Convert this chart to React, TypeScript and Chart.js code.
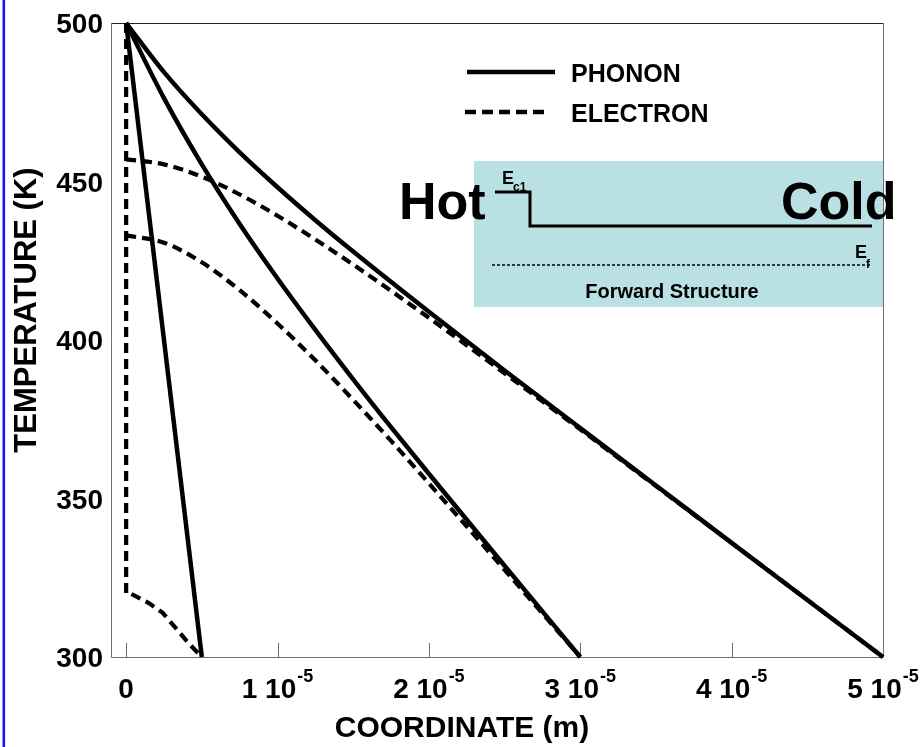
import { useEffect, useRef } from "react";
import { Chart, registerables } from "chart.js";

Chart.register(...registerables);

// Coordinates in metres, temperatures in kelvin.
// Thinnest structure (0.5 µm-scale): phonon and electron temperatures
const phononX1 = [0, 0.5e-5];
const phononT1 = [500, 300];
const electronX1 = [0, 0, 0.03e-5, 0.15e-5, 0.24e-5, 0.33e-5, 0.41e-5, 0.5e-5];
const electronT1 = [500, 320, 320, 317, 314, 309, 304.5, 300];

// Medium structure
const phononX2 = [0, 0.25e-5, 0.5e-5, 0.75e-5, 1e-5, 1.25e-5, 1.5e-5, 1.75e-5, 2e-5, 2.5e-5, 3e-5];
const phononT2 = [500, 476.3, 455.4, 436.6, 419.4, 403.2, 387.6, 372.5, 357.8, 328.8, 300];
const electronX2 = [0, 0.25e-5, 0.5e-5, 0.75e-5, 1e-5, 1.25e-5, 1.5e-5, 1.75e-5, 2e-5, 2.5e-5, 3e-5];
const electronT2 = [433, 430.7, 424.5, 415.7, 405.2, 393.6, 381.1, 368.2, 354.8, 327.5, 300];

// Longest structure
const phononX3 = [0, 0.25e-5, 0.5e-5, 0.75e-5, 1e-5, 1.25e-5, 1.5e-5, 2e-5, 2.5e-5, 3e-5, 3.5e-5, 4e-5, 4.5e-5, 5e-5];
const phononT3 = [500, 484.5, 471.2, 459.2, 448.2, 437.8, 427.9, 408.9, 390.4, 372.2, 354.1, 336, 318, 300];
const electronX3 = [0, 0.25e-5, 0.5e-5, 0.75e-5, 1e-5, 1.25e-5, 1.5e-5, 2e-5, 2.5e-5, 3e-5, 3.5e-5, 4e-5, 4.5e-5, 5e-5];
const electronT3 = [457, 455.4, 451.5, 445.9, 439.2, 431.7, 423.8, 407, 389.5, 371.8, 353.9, 336, 318, 300];

// Axis ticks
const xTickValues = [0, 1e-5, 2e-5, 3e-5, 4e-5, 5e-5];
const xTickMantissa = ["0", "1 10", "2 10", "3 10", "4 10", "5 10"];
const xTickExponent = ["", "-5", "-5", "-5", "-5", "-5"];
const yTickValues = [300, 350, 400, 450, 500];

const FONT = '"Liberation Sans", Arial, Helvetica, sans-serif';

const toPoints = (xs: number[], ts: number[]) => xs.map((x, i) => ({ x, y: ts[i] }));

const solid = (xs: number[], ts: number[], smooth: boolean) => ({
  data: toPoints(xs, ts),
  borderColor: "#000",
  borderWidth: 4.5,
  pointRadius: 0,
  fill: false,
  clip: false as const,
  cubicInterpolationMode: smooth ? ("monotone" as const) : ("default" as const),
  tension: 0,
});

const dashed = (xs: number[], ts: number[], smooth: boolean) => ({
  ...solid(xs, ts, smooth),
  borderDash: [10, 6],
  borderWidth: 4.2,
});

const decorPlugin = {
  id: "decor",
  beforeDraw(chart: any) {
    const ctx = chart.ctx as CanvasRenderingContext2D;
    ctx.save();
    ctx.fillStyle = "#ffffff";
    ctx.fillRect(0, 0, chart.width, chart.height);
    // blue rule along the left edge
    ctx.fillStyle = "#1414f0";
    ctx.fillRect(2.5, 0, 2.6, chart.height);
    ctx.restore();
  },
  beforeDatasetsDraw(chart: any) {
    const ctx = chart.ctx as CanvasRenderingContext2D;
    const { left, right, top, bottom } = chart.chartArea;
    const xs = chart.scales.x;
    ctx.save();
    ctx.lineWidth = 1;
    // frame
    ctx.strokeStyle = "#222";
    ctx.beginPath();
    ctx.moveTo(left, top + 0.5);
    ctx.lineTo(right, top + 0.5);
    ctx.stroke();
    ctx.strokeStyle = "#6e6e6e";
    ctx.beginPath();
    ctx.moveTo(left + 0.5, top);
    ctx.lineTo(left + 0.5, bottom + 0.5);
    ctx.lineTo(right + 0.5, bottom + 0.5);
    ctx.lineTo(right + 0.5, top);
    ctx.stroke();
    // inward x ticks
    xTickValues.forEach((v) => {
      const px = Math.round(xs.getPixelForValue(v)) + 0.5;
      ctx.beginPath();
      ctx.moveTo(px, bottom);
      ctx.lineTo(px, bottom - 14);
      ctx.stroke();
    });
    ctx.restore();
  },
  afterDraw(chart: any) {
    const ctx = chart.ctx as CanvasRenderingContext2D;
    const xs = chart.scales.x;
    const ys = chart.scales.y;
    ctx.save();
    ctx.fillStyle = "#000";

    // y tick labels
    ctx.font = `bold 28px ${FONT}`;
    ctx.textAlign = "right";
    ctx.textBaseline = "alphabetic";
    yTickValues.forEach((v) => {
      ctx.fillText(String(v), 103, ys.getPixelForValue(v) + 10);
    });

    // x tick labels with superscript exponent
    ctx.textAlign = "left";
    xTickValues.forEach((v, i) => {
      const px = xs.getPixelForValue(v);
      ctx.font = `bold 28px ${FONT}`;
      const wm = ctx.measureText(xTickMantissa[i]).width;
      ctx.font = `bold 18px ${FONT}`;
      const we = xTickExponent[i] ? ctx.measureText(xTickExponent[i]).width + 1 : 0;
      const x0 = px - (wm + we) / 2;
      ctx.font = `bold 28px ${FONT}`;
      ctx.fillText(xTickMantissa[i], x0, 698);
      if (xTickExponent[i]) {
        ctx.font = `bold 18px ${FONT}`;
        ctx.fillText(xTickExponent[i], x0 + wm + 1, 682);
      }
    });

    // axis titles
    ctx.font = `bold 30px ${FONT}`;
    ctx.textAlign = "center";
    ctx.fillText("COORDINATE (m)", 462, 737);
    ctx.save();
    ctx.translate(36, 310);
    ctx.rotate(-Math.PI / 2);
    ctx.font = `bold 31px ${FONT}`;
    ctx.fillText("TEMPERATURE (K)", 0, 0);
    ctx.restore();

    // legend
    ctx.strokeStyle = "#000";
    ctx.lineWidth = 4.5;
    ctx.beginPath();
    ctx.moveTo(467, 72);
    ctx.lineTo(555, 72);
    ctx.stroke();
    ctx.setLineDash([11, 6]);
    ctx.beginPath();
    ctx.moveTo(465, 112);
    ctx.lineTo(545, 112);
    ctx.stroke();
    ctx.setLineDash([]);
    ctx.font = `bold 25px ${FONT}`;
    ctx.textAlign = "left";
    ctx.fillText("PHONON", 571, 82);
    ctx.fillText("ELECTRON", 571, 122);

    // band diagram inset
    ctx.fillStyle = "#b9e0e3";
    ctx.fillRect(474, 161, 409, 146);
    ctx.fillStyle = "#000";
    ctx.font = `bold 52px ${FONT}`;
    ctx.fillText("Hot", 399, 219);
    ctx.fillText("Cold", 781, 219);
    ctx.lineWidth = 3;
    ctx.beginPath();
    ctx.moveTo(495, 192);
    ctx.lineTo(530, 192);
    ctx.lineTo(530, 226);
    ctx.lineTo(872, 226);
    ctx.stroke();
    ctx.font = `bold 18px ${FONT}`;
    ctx.fillText("E", 502, 184);
    ctx.fillText("E", 855, 258);
    ctx.font = `bold 12px ${FONT}`;
    ctx.fillText("c1", 513, 191);
    ctx.fillText("f", 866, 268);
    ctx.lineWidth = 1.5;
    ctx.setLineDash([3, 2]);
    ctx.beginPath();
    ctx.moveTo(492, 265);
    ctx.lineTo(870, 265);
    ctx.stroke();
    ctx.setLineDash([]);
    ctx.font = `bold 20px ${FONT}`;
    ctx.textAlign = "center";
    ctx.fillText("Forward Structure", 672, 298);

    ctx.restore();
  },
};

export default function App() {
  const canvasRef = useRef<HTMLCanvasElement | null>(null);

  useEffect(() => {
    if (!canvasRef.current) return;
    const chart = new Chart(canvasRef.current, {
      type: "line",
      data: {
        datasets: [
          solid(phononX1, phononT1, false),
          dashed(electronX1, electronT1, false),
          solid(phononX2, phononT2, true),
          dashed(electronX2, electronT2, true),
          solid(phononX3, phononT3, true),
          dashed(electronX3, electronT3, true),
        ] as any,
      },
      options: {
        animation: false,
        responsive: false,
        maintainAspectRatio: false,
        layout: { padding: { left: 111, right: 40, top: 23, bottom: 90 } },
        plugins: { legend: { display: false }, tooltip: { enabled: false } },
        scales: {
          x: { type: "linear", display: false, min: -1e-6, max: 5e-5 },
          y: { type: "linear", display: false, min: 300, max: 500 },
        },
      },
      plugins: [decorPlugin],
    });
    return () => chart.destroy();
  }, []);

  return (
    <div style={{ position: "absolute", left: 0, top: 0, width: 923, height: 747 }}>
      <canvas ref={canvasRef} width={923} height={747} style={{ display: "block" }} />
    </div>
  );
}
